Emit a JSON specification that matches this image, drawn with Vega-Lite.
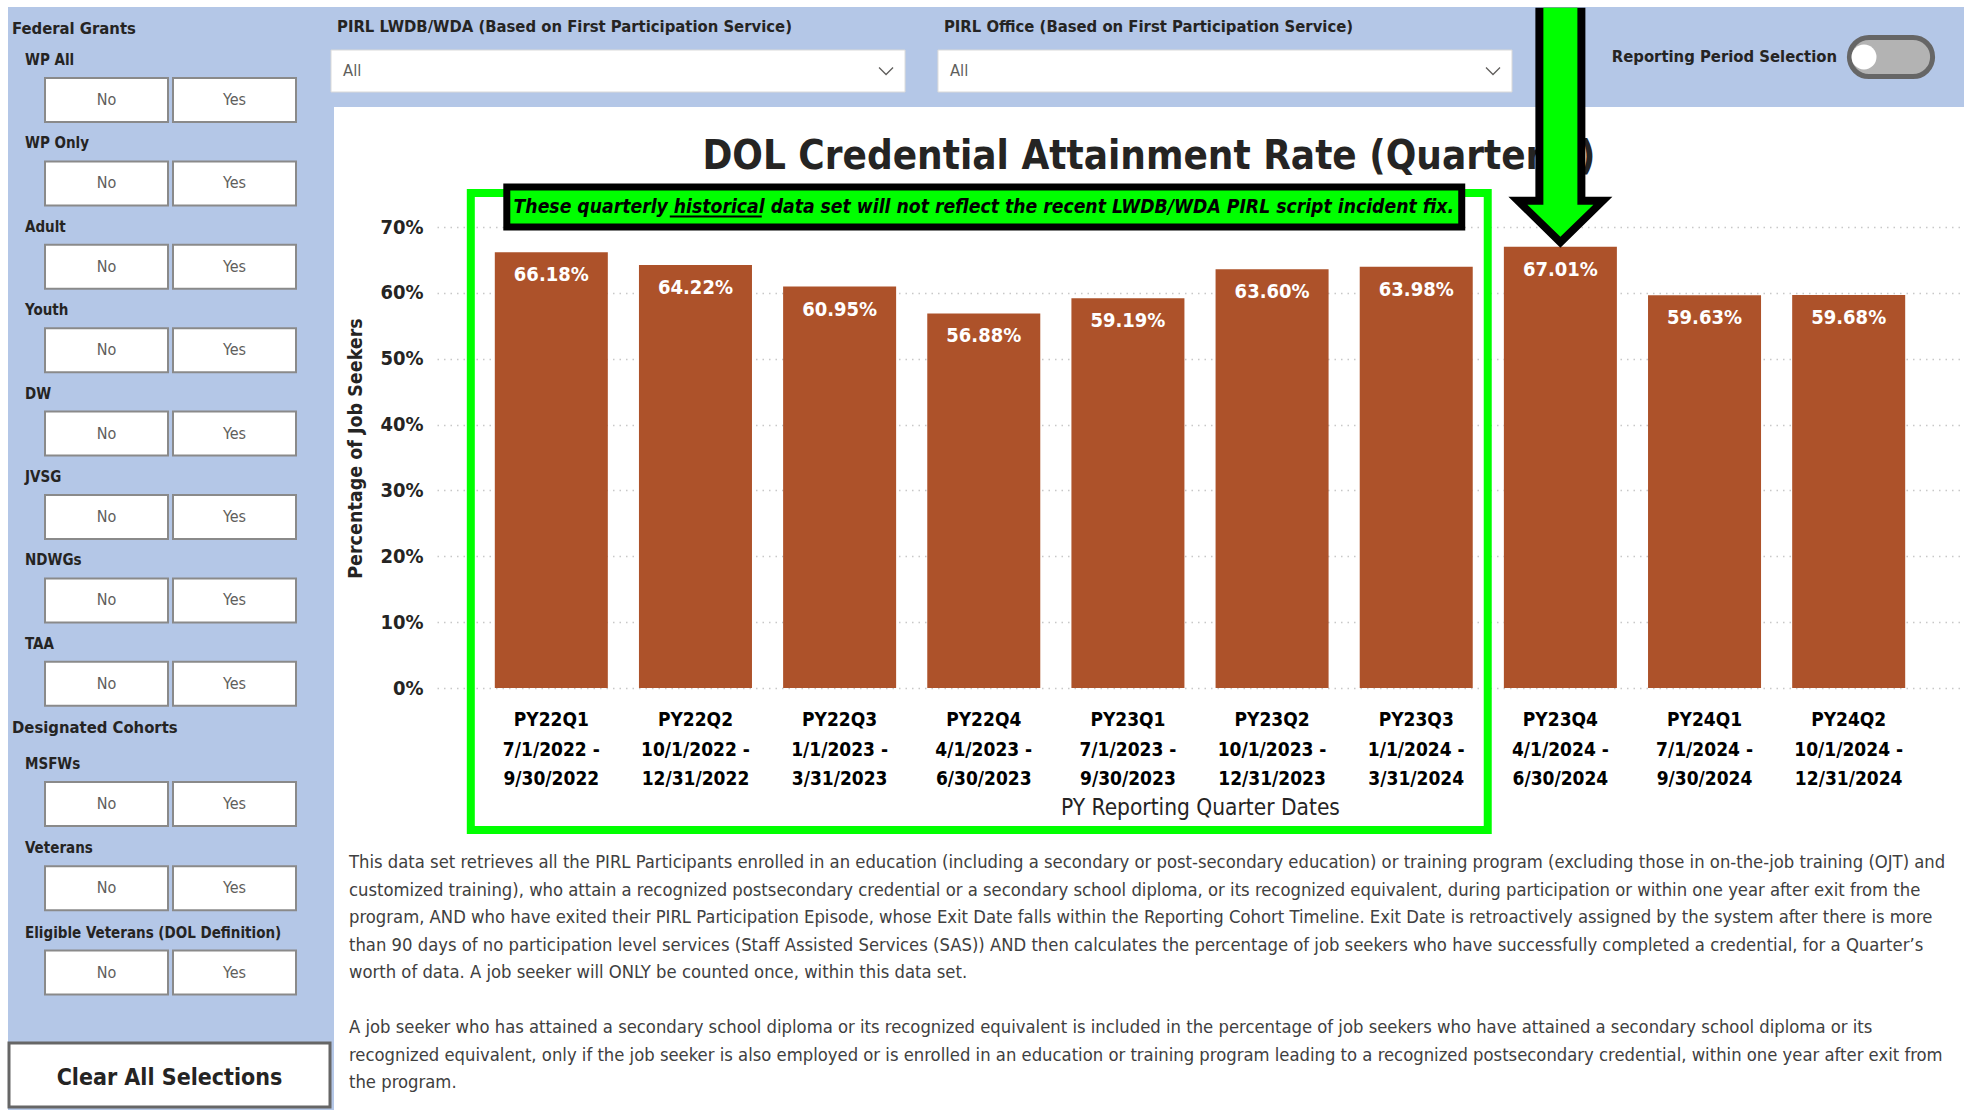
{
  "$schema": "https://vega.github.io/schema/vega-lite/v6.json",
  "background": "white",
  "padding": {"left": 7, "top": 7, "right": 0, "bottom": 0},
  "bounds": "flush",
  "spacing": 0,
  "config": {
    "font": "DejaVu Sans Condensed, DejaVu Sans, sans-serif",
    "view": {"stroke": null}
  },
  "datasets": {
    "rates": [
      {"period": "PY22Q1\n7/1/2022 -\n9/30/2022", "rate": 0.6618},
      {"period": "PY22Q2\n10/1/2022 -\n12/31/2022", "rate": 0.6422},
      {"period": "PY22Q3\n1/1/2023 -\n3/31/2023", "rate": 0.6095},
      {"period": "PY22Q4\n4/1/2023 -\n6/30/2023", "rate": 0.5688},
      {"period": "PY23Q1\n7/1/2023 -\n9/30/2023", "rate": 0.5919},
      {"period": "PY23Q2\n10/1/2023 -\n12/31/2023", "rate": 0.6360},
      {"period": "PY23Q3\n1/1/2024 -\n3/31/2024", "rate": 0.6398},
      {"period": "PY23Q4\n4/1/2024 -\n6/30/2024", "rate": 0.6701},
      {"period": "PY24Q1\n7/1/2024 -\n9/30/2024", "rate": 0.5963},
      {"period": "PY24Q2\n10/1/2024 -\n12/31/2024", "rate": 0.5968}
    ],
    "highlight": [
      {"from": "PY22Q1\n7/1/2022 -\n9/30/2022", "to": "PY23Q3\n1/1/2024 -\n3/31/2024", "middle": "PY22Q4\n4/1/2023 -\n6/30/2023", "note": "These quarterly historical data set will not reflect the recent LWDB/WDA PIRL script incident fix."}
    ],
    "callout": [
      {"period": "PY23Q4\n4/1/2024 -\n6/30/2024", "rate": 0.6701}
    ],
    "federal": [
      {"group": "WP All", "option": "No"}, {"group": "WP All", "option": "Yes"},
      {"group": "WP Only", "option": "No"}, {"group": "WP Only", "option": "Yes"},
      {"group": "Adult", "option": "No"}, {"group": "Adult", "option": "Yes"},
      {"group": "Youth", "option": "No"}, {"group": "Youth", "option": "Yes"},
      {"group": "DW", "option": "No"}, {"group": "DW", "option": "Yes"},
      {"group": "JVSG", "option": "No"}, {"group": "JVSG", "option": "Yes"},
      {"group": "NDWGs", "option": "No"}, {"group": "NDWGs", "option": "Yes"},
      {"group": "TAA", "option": "No"}, {"group": "TAA", "option": "Yes"}
    ],
    "cohorts": [
      {"group": "MSFWs", "option": "No"}, {"group": "MSFWs", "option": "Yes"},
      {"group": "Veterans", "option": "No"}, {"group": "Veterans", "option": "Yes"},
      {"group": "Eligible Veterans (DOL Definition)", "option": "No"}, {"group": "Eligible Veterans (DOL Definition)", "option": "Yes"}
    ],
    "filters": [
      {"filter": "PIRL LWDB/WDA (Based on First Participation Service)", "selection": "All"},
      {"filter": "PIRL Office (Based on First Participation Service)", "selection": "All"}
    ],
    "paragraphs": [
      {"paragraph": 1, "body": "This data set retrieves all the PIRL Participants enrolled in an education (including a secondary or post-secondary education) or training program (excluding those in on-the-job training (OJT) and\ncustomized training), who attain a recognized postsecondary credential or a secondary school diploma, or its recognized equivalent, during participation or within one year after exit from the\nprogram, AND who have exited their PIRL Participation Episode, whose Exit Date falls within the Reporting Cohort Timeline. Exit Date is retroactively assigned by the system after there is more\nthan 90 days of no participation level services (Staff Assisted Services (SAS)) AND then calculates the percentage of job seekers who have successfully completed a credential, for a Quarter’s\nworth of data. A job seeker will ONLY be counted once, within this data set."},
      {"paragraph": 2, "body": "A job seeker who has attained a secondary school diploma or its recognized equivalent is included in the percentage of job seekers who have attained a secondary school diploma or its\nrecognized equivalent, only if the job seeker is also employed or is enrolled in an education or training program leading to a recognized postsecondary credential, within one year after exit from\nthe program."}
    ]
  },
  "hconcat": [
    {
      "width": 326,
      "height": 1103,
      "view": {"fill": "#B4C7E7", "stroke": null},
      "resolve": {"scale": {"x": "independent", "y": "independent"}},
      "layer": [
        {
          "data": {"name": "federal"},
          "layer": [
            {
              "mark": {"type": "rect", "fill": "white", "stroke": "#8a8a8a", "strokeWidth": 2},
              "encoding": {
                "x": {"field": "option", "type": "nominal", "axis": null, "scale": {"type": "band", "domain": ["No", "Yes"], "range": [37, 288], "paddingInner": 0.039, "paddingOuter": 0}},
                "y": {"field": "group", "type": "nominal", "axis": null, "scale": {"type": "band", "domain": ["WP All", "WP Only", "Adult", "Youth", "DW", "JVSG", "NDWGs", "TAA"], "range": [71, 698.8], "paddingInner": 0.4724, "paddingOuter": 0}}
              }
            },
            {
              "mark": {"type": "text", "fontSize": 16, "color": "#605E5C"},
              "encoding": {
                "x": {"field": "option", "type": "nominal", "axis": null},
                "y": {"field": "group", "type": "nominal", "axis": null},
                "text": {"field": "option"}
              }
            },
            {
              "transform": [{"filter": "datum.option === 'No'"}],
              "mark": {"type": "text", "align": "left", "baseline": "middle", "dx": -20, "dy": -18, "fontSize": 15, "fontWeight": "bold", "color": "#252423"},
              "encoding": {
                "x": {"field": "option", "type": "nominal", "axis": null, "bandPosition": 0},
                "y": {"field": "group", "type": "nominal", "axis": null, "bandPosition": 0},
                "text": {"field": "group"}
              }
            },
            {
              "data": {"values": [{"section": "Federal Grants", "first": "WP All"}]},
              "mark": {"type": "text", "align": "left", "baseline": "middle", "dx": -33, "dy": -49, "fontSize": 16.5, "fontWeight": "bold", "color": "#252423"},
              "encoding": {
                "x": {"datum": "No", "type": "nominal", "axis": null, "bandPosition": 0},
                "y": {"field": "first", "type": "nominal", "axis": null, "bandPosition": 0},
                "text": {"field": "section"}
              }
            }
          ]
        },
        {
          "data": {"name": "cohorts"},
          "layer": [
            {
              "mark": {"type": "rect", "fill": "white", "stroke": "#8a8a8a", "strokeWidth": 2},
              "encoding": {
                "x": {"field": "option", "type": "nominal", "axis": null, "scale": {"type": "band", "domain": ["No", "Yes"], "range": [37, 288], "paddingInner": 0.039, "paddingOuter": 0}},
                "y": {"field": "group", "type": "nominal", "axis": null, "scale": {"type": "band", "domain": ["MSFWs", "Veterans", "Eligible Veterans (DOL Definition)"], "range": [775, 987.6], "paddingInner": 0.478, "paddingOuter": 0}}
              }
            },
            {
              "mark": {"type": "text", "fontSize": 16, "color": "#605E5C"},
              "encoding": {
                "x": {"field": "option", "type": "nominal", "axis": null},
                "y": {"field": "group", "type": "nominal", "axis": null},
                "text": {"field": "option"}
              }
            },
            {
              "transform": [{"filter": "datum.option === 'No'"}],
              "mark": {"type": "text", "align": "left", "baseline": "middle", "dx": -20, "dy": -18, "fontSize": 15, "fontWeight": "bold", "color": "#252423"},
              "encoding": {
                "x": {"field": "option", "type": "nominal", "axis": null, "bandPosition": 0},
                "y": {"field": "group", "type": "nominal", "axis": null, "bandPosition": 0},
                "text": {"field": "group"}
              }
            },
            {
              "data": {"values": [{"section": "Designated Cohorts", "first": "MSFWs"}]},
              "mark": {"type": "text", "align": "left", "baseline": "middle", "dx": -33, "dy": -54, "fontSize": 16.5, "fontWeight": "bold", "color": "#252423"},
              "encoding": {
                "x": {"datum": "No", "type": "nominal", "axis": null, "bandPosition": 0},
                "y": {"field": "first", "type": "nominal", "axis": null, "bandPosition": 0},
                "text": {"field": "section"}
              }
            }
          ]
        },
        {
          "data": {"values": [{"action": "Clear All Selections"}]},
          "encoding": {
            "x": {"field": "action", "type": "nominal", "axis": null, "scale": {"type": "band", "range": [1, 322], "paddingInner": 0, "paddingOuter": 0}},
            "y": {"field": "action", "type": "nominal", "axis": null, "scale": {"type": "band", "range": [1036, 1100], "paddingInner": 0, "paddingOuter": 0}}
          },
          "layer": [
            {"mark": {"type": "rect", "fill": "white", "stroke": "#666666", "strokeWidth": 3}},
            {
              "mark": {"type": "text", "fontSize": 23, "fontWeight": "bold", "color": "#252423", "baseline": "middle", "dy": 3},
              "encoding": {"text": {"field": "action"}}
            }
          ]
        }
      ]
    },
    {
      "spacing": 120,
      "bounds": "flush",
      "vconcat": [
        {
          "width": 1630,
          "height": 100,
          "view": {"fill": "#B4C7E7", "stroke": null},
          "resolve": {"scale": {"x": "independent", "y": "independent"}},
          "layer": [
            {
              "data": {"name": "filters"},
              "layer": [
                {
                  "mark": {"type": "rect", "fill": "white", "stroke": "#d9d9d9", "strokeWidth": 1},
                  "encoding": {
                    "x": {"field": "filter", "type": "nominal", "sort": null, "axis": null, "scale": {"type": "band", "range": [-3, 1178], "paddingInner": 0.0542, "paddingOuter": 0}},
                    "y": {"datum": "box", "type": "nominal", "axis": null, "scale": {"type": "band", "domain": ["label", "box"], "range": [-1.5, 85], "paddingInner": 0.056, "paddingOuter": 0}}
                  }
                },
                {
                  "mark": {"type": "text", "align": "left", "baseline": "middle", "dx": 6, "fontSize": 16.5, "fontWeight": "bold", "color": "#252423"},
                  "encoding": {
                    "x": {"field": "filter", "type": "nominal", "sort": null, "axis": null, "bandPosition": 0},
                    "y": {"datum": "label", "type": "nominal", "axis": null},
                    "text": {"field": "filter"}
                  }
                },
                {
                  "mark": {"type": "text", "align": "left", "baseline": "middle", "dx": 12, "fontSize": 16.5, "color": "#605E5C"},
                  "encoding": {
                    "x": {"field": "filter", "type": "nominal", "sort": null, "axis": null, "bandPosition": 0},
                    "y": {"datum": "box", "type": "nominal", "axis": null},
                    "text": {"field": "selection"}
                  }
                },
                {
                  "mark": {"type": "point", "shape": "M -1 -0.5 L 0 0.5 L 1 -0.5", "size": 196, "filled": false, "stroke": "#605E5C", "strokeWidth": 1.3, "opacity": 1, "xOffset": -19},
                  "encoding": {
                    "x": {"field": "filter", "type": "nominal", "sort": null, "axis": null, "bandPosition": 1},
                    "y": {"datum": "box", "type": "nominal", "axis": null}
                  }
                }
              ]
            },
            {
              "data": {"values": [{"control": "Reporting Period Selection", "state": "Off"}]},
              "layer": [
                {
                  "mark": {"type": "text", "align": "right", "baseline": "middle", "fontSize": 16.5, "fontWeight": "bold", "color": "#252423"},
                  "encoding": {
                    "x": {"datum": "label", "type": "nominal", "axis": null, "scale": {"type": "point", "domain": ["label", "knob", "switch"], "range": [1503, 1557], "padding": 0}},
                    "text": {"field": "control"}
                  }
                },
                {
                  "mark": {"type": "point", "shape": "M -0.55 -0.49 L 0.55 -0.49 A 0.49 0.49 0 0 1 0.55 0.49 L -0.55 0.49 A 0.49 0.49 0 0 1 -0.55 -0.49 Z", "size": 6400, "filled": true, "fill": "#B3B3B3", "stroke": "#666666", "strokeWidth": 5, "opacity": 1},
                  "encoding": {
                    "x": {"datum": "switch", "type": "nominal", "axis": null}
                  }
                },
                {
                  "mark": {"type": "point", "shape": "circle", "size": 625, "filled": true, "fill": "white", "strokeWidth": 0, "opacity": 1},
                  "encoding": {
                    "x": {"datum": "knob", "type": "nominal", "axis": null}
                  }
                }
              ]
            }
          ]
        },
        {
          "spacing": 157,
          "bounds": "flush",
          "vconcat": [
            {
              "width": 1630,
              "height": 461,
              "layer": [
                {
                  "data": {"name": "rates"},
                  "mark": {"type": "bar", "color": "#AD522A"},
                  "encoding": {
                    "x": {
                      "field": "period", "type": "nominal", "sort": null, "title": "PY Reporting Quarter Dates",
                      "scale": {"type": "band", "range": [103, 1629], "paddingInner": 0.216, "paddingOuter": 0.401},
                      "axis": {"title": "PY Reporting Quarter Dates", "orient": "bottom", "labelAngle": 0, "labelExpr": "split(datum.label, '\\n')", "labelFontSize": 19, "labelFontWeight": "bold", "labelColor": "#000000", "labelLineHeight": 29.5, "labelPadding": 22.5, "labelBaseline": "top", "domain": false, "ticks": false, "tickSize": 0, "grid": false, "titleFontSize": 22.5, "titleFontWeight": "normal", "titleColor": "#252423", "titleY": 119, "titleBaseline": "middle"}
                    },
                    "y": {
                      "field": "rate", "type": "quantitative", "title": "Percentage of Job Seekers",
                      "scale": {"domain": [0, 0.7], "nice": false},
                      "axis": {"title": "Percentage of Job Seekers", "orient": "left", "values": [0, 0.1, 0.2, 0.3, 0.4, 0.5, 0.6, 0.7], "format": ".0%", "labelFontSize": 20, "labelFontWeight": "bold", "labelColor": "#252423", "labelAlign": "right", "labelPadding": -89, "domain": false, "ticks": false, "tickSize": 0, "grid": true, "gridColor": "#c8c8c8", "gridDash": [1.5, 5], "gridWidth": 1.5, "titleFontSize": 19.5, "titleFontWeight": "bold", "titleColor": "#252423", "titleX": 21, "titleY": 221, "titleAngle": -90, "titleBaseline": "middle", "titleAlign": "center"}
                    }
                  }
                },
                {
                  "data": {"name": "rates"},
                  "mark": {"type": "text", "color": "white", "fontSize": 20, "fontWeight": "bold", "baseline": "middle", "dy": 23},
                  "encoding": {
                    "x": {"field": "period", "type": "nominal", "sort": null},
                    "y": {"field": "rate", "type": "quantitative"},
                    "text": {"field": "rate", "type": "quantitative", "format": ".2%"}
                  }
                },
                {
                  "data": {"name": "highlight"},
                  "mark": {"type": "rect", "fill": "transparent", "stroke": "#00FF00", "strokeWidth": 8, "xOffset": -24, "x2Offset": 15, "yOffset": -34, "y2Offset": 142},
                  "encoding": {
                    "x": {"field": "from", "type": "nominal", "bandPosition": 0},
                    "x2": {"field": "to", "bandPosition": 1},
                    "y": {"datum": 0.7, "type": "quantitative"},
                    "y2": {"datum": 0}
                  }
                },
                {
                  "data": {"name": "highlight"},
                  "mark": {"type": "rect", "fill": "#00FF00", "stroke": "black", "strokeWidth": 7, "xOffset": 12, "x2Offset": -11, "yOffset": -40, "y2Offset": 0},
                  "encoding": {
                    "x": {"field": "from", "type": "nominal", "bandPosition": 0},
                    "x2": {"field": "to", "bandPosition": 1},
                    "y": {"datum": 0.7, "type": "quantitative"},
                    "y2": {"datum": 0.7}
                  }
                },
                {
                  "data": {"name": "highlight"},
                  "mark": {"type": "text", "baseline": "middle", "dy": -20, "fontSize": 19.2, "fontWeight": "bold", "fontStyle": "italic", "color": "black"},
                  "encoding": {
                    "x": {"field": "middle", "type": "nominal"},
                    "y": {"datum": 0.7, "type": "quantitative"},
                    "text": {"field": "note"}
                  }
                },
                {
                  "data": {"name": "highlight"},
                  "mark": {"type": "rule", "color": "black", "strokeWidth": 2, "xOffset": -314, "x2Offset": -222, "yOffset": -10.5},
                  "encoding": {
                    "x": {"field": "middle", "type": "nominal"},
                    "x2": {"field": "middle"},
                    "y": {"datum": 0.7, "type": "quantitative"}
                  }
                },
                {
                  "data": {"values": [{"title": "DOL Credential Attainment Rate (Quarterly)"}]},
                  "mark": {"type": "text", "baseline": "middle", "dy": -70, "fontSize": 40, "fontWeight": "bold", "color": "#252423"},
                  "encoding": {
                    "y": {"datum": 0.7, "type": "quantitative"},
                    "text": {"field": "title"}
                  }
                },
                {
                  "data": {"name": "callout"},
                  "mark": {"type": "point", "shape": "M -0.25 -2.39 L 0.25 -2.39 L 0.25 -0.50 L 0.52 -0.50 L 0 0.01 L -0.52 -0.50 L -0.25 -0.50 Z", "size": 40000, "filled": true, "fill": "black", "strokeWidth": 0, "opacity": 1},
                  "encoding": {
                    "x": {"field": "period", "type": "nominal"},
                    "y": {"field": "rate", "type": "quantitative"}
                  }
                },
                {
                  "data": {"name": "callout"},
                  "mark": {"type": "point", "shape": "M -0.17 -2.39 L 0.17 -2.39 L 0.17 -0.42 L 0.33 -0.42 L 0 -0.10 L -0.33 -0.42 L -0.17 -0.42 Z", "size": 40000, "filled": true, "fill": "#00FF00", "strokeWidth": 0, "opacity": 1},
                  "encoding": {
                    "x": {"field": "period", "type": "nominal"},
                    "y": {"field": "rate", "type": "quantitative"}
                  }
                }
              ]
            },
            {
              "width": 1630,
              "height": 263,
              "data": {"name": "paragraphs"},
              "mark": {"type": "text", "align": "left", "baseline": "top", "lineBreak": "\n", "lineHeight": 27.6, "fontSize": 18.3, "color": "#404040"},
              "encoding": {
                "x": {"datum": 0, "type": "quantitative", "axis": null, "scale": {"domain": [0, 1], "range": [15, 1627]}},
                "y": {"field": "paragraph", "type": "ordinal", "axis": null, "scale": {"type": "point", "range": [9, 174], "padding": 0}},
                "text": {"field": "body"}
              }
            }
          ]
        }
      ]
    }
  ]
}
